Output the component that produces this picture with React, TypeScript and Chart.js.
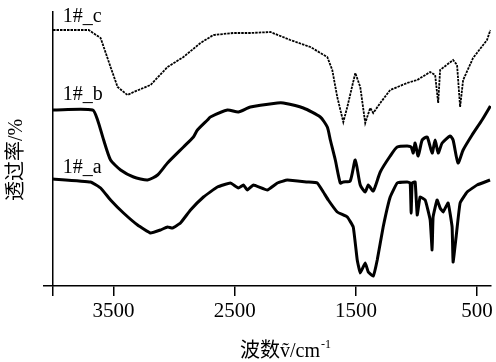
import { useEffect, useRef } from 'react';
import { Chart, registerables } from 'chart.js';

Chart.register(...registerables);

// Tick values of the wavenumber axis (cm^-1); 4000 is the unlabeled axis origin
const tickValues = [4000, 3500, 2500, 1500, 500];

// Series names
const seriesNames = ['1#_a', '1#_b', '1#_c'];

// 1#_c (top, thin dotted trace)
const cWn = [4000, 3706, 3607, 3525, 3467, 3385, 3335, 3195, 3055, 2923, 2783, 2676, 2511, 2371, 2206, 2041, 1876, 1736, 1695, 1654, 1604, 1571, 1505, 1464, 1423, 1382, 1357, 1299, 1217, 1077, 994, 887, 846, 821, 805, 698, 665, 640, 615, 533, 418, 390];
const cT = [256, 256, 248, 219, 199, 191, 194, 201, 219, 229, 243, 251, 253, 253, 254, 246, 239, 229, 216, 189, 164, 179, 213, 199, 163, 178, 173, 183, 196, 203, 206, 214, 211, 183, 216, 226, 221, 179, 206, 228, 246, 256];

// 1#_b (middle)
const bWn = [4000, 3673, 3632, 3582, 3525, 3442, 3335, 3220, 3137, 3055, 2923, 2841, 2808, 2725, 2701, 2560, 2470, 2371, 2148, 2099, 1934, 1794, 1736, 1711, 1670, 1629, 1604, 1547, 1505, 1464, 1423, 1398, 1357, 1299, 1217, 1159, 1077, 1044, 1027, 1011, 986, 953, 912, 871, 846, 821, 788, 722, 698, 657, 615, 541, 459, 390];
const bT = [176, 176, 166, 146, 126, 116, 109, 106, 111, 123, 139, 149, 156, 166, 169, 176, 174, 179, 183, 183, 178, 169, 159, 146, 126, 103, 104, 105, 126, 101, 94, 101, 95, 114, 130, 139, 140, 139, 133, 143, 130, 146, 149, 133, 146, 133, 143, 150, 146, 123, 136, 151, 166, 180];

// 1#_a (bottom)
const aWn = [4000, 3690, 3607, 3525, 3418, 3302, 3195, 3113, 3055, 3014, 2948, 2865, 2758, 2643, 2536, 2470, 2429, 2396, 2346, 2231, 2148, 2066, 1901, 1819, 1769, 1728, 1654, 1571, 1522, 1489, 1464, 1423, 1398, 1357, 1324, 1275, 1217, 1159, 1077, 1052, 1044, 1036, 1011, 994, 970, 928, 887, 871, 863, 830, 805, 780, 739, 706, 698, 673, 640, 582, 500, 393];
const aT = [107, 104, 98, 86, 73, 61, 53, 56, 59, 58, 63, 76, 89, 99, 103, 98, 101, 96, 101, 96, 103, 106, 104, 103, 94, 86, 74, 69, 59, 26, 13, 23, 14, 10, 26, 59, 89, 103, 104, 103, 73, 103, 104, 71, 89, 86, 66, 36, 69, 86, 78, 74, 83, 59, 24, 49, 83, 94, 101, 106];

const toPoints = (xs: number[], ys: number[]) => xs.map((x, i) => ({ x, y: ys[i] }));

const SERIF = '"Liberation Serif", "Times New Roman", "Noto Sans CJK SC", serif';

const annotatePlugin = {
  id: 'annotate',
  afterDraw(chart: any) {
    const { ctx } = chart;
    const xs = chart.scales.x;
    const ys = chart.scales.y;
    ctx.save();
    ctx.fillStyle = '#000';
    // series labels, anchored above each trace's start
    ctx.font = `20px ${SERIF}`;
    ctx.textAlign = 'left';
    ctx.textBaseline = 'alphabetic';
    const starts = [aT[0], bT[0], cT[0]];
    const offs = [6, 10, 8];
    seriesNames.forEach((name, i) => {
      ctx.fillText(name, xs.getPixelForValue(3920), ys.getPixelForValue(starts[i]) - offs[i]);
    });
    // y title
    ctx.save();
    ctx.translate(17, 160);
    ctx.rotate(-Math.PI / 2);
    ctx.textAlign = 'center';
    ctx.textBaseline = 'middle';
    ctx.font = `20px ${SERIF}`;
    ctx.fillText('透过率/%', 0, 0);
    ctx.restore();
    // x title
    ctx.font = `20px ${SERIF}`;
    ctx.textAlign = 'left';
    ctx.textBaseline = 'alphabetic';
    const main = '波数ṽ/cm';
    const x0 = 240;
    const yb = 357;
    ctx.fillText(main, x0, yb);
    const w = ctx.measureText(main).width;
    ctx.font = `12px ${SERIF}`;
    ctx.fillText('-1', x0 + w + 1, yb - 9);
    ctx.restore();
  },
};

export default function App() {
  const ref = useRef<HTMLCanvasElement>(null);
  useEffect(() => {
    if (!ref.current) return;
    const chart = new Chart(ref.current, {
      type: 'line',
      data: {
        datasets: [
          { label: seriesNames[2], data: toPoints(cWn, cT), borderColor: '#000', borderWidth: 1.8, borderDash: [2.5, 1], pointRadius: 0, tension: 0 },
          { label: seriesNames[1], data: toPoints(bWn, bT), borderColor: '#000', borderWidth: 3, pointRadius: 0, tension: 0.2 },
          { label: seriesNames[0], data: toPoints(aWn, aT), borderColor: '#000', borderWidth: 3, pointRadius: 0, tension: 0.1 },
        ],
      },
      options: {
        animation: false,
        responsive: false,
        maintainAspectRatio: false,
        layout: { padding: { top: 12, right: 5, left: 0, bottom: 0 } },
        plugins: { legend: { display: false }, tooltip: { enabled: false } },
        scales: {
          x: {
            type: 'linear',
            reverse: true,
            min: 385,
            max: 4000,
            afterBuildTicks: (s: any) => { s.ticks = tickValues.map((v) => ({ value: v })); },
            afterFit: (s: any) => { s.height = 76; },
            grid: { display: true, drawOnChartArea: false, drawTicks: true, tickLength: 10, color: '#000', lineWidth: 1.5 },
            border: { display: true, color: '#000', width: 1.5 },
            ticks: {
              color: '#000',
              padding: 3,
              maxRotation: 0,
              autoSkip: false,
              font: { family: SERIF, size: 21 },
              callback: (v: any) => (v === 4000 ? '' : String(v)),
            },
          },
          y: {
            type: 'linear',
            min: 0,
            max: 274,
            afterBuildTicks: (s: any) => { s.ticks = [{ value: 0 }]; },
            afterFit: (s: any) => { s.width = 53; },
            grid: { display: true, drawOnChartArea: false, drawTicks: true, tickLength: 10, color: '#000', lineWidth: 1.5 },
            border: { display: true, color: '#000', width: 1.5 },
            ticks: { display: false },
          },
        },
      },
      plugins: [annotatePlugin],
    });
    return () => chart.destroy();
  }, []);
  return (
    <div style={{ position: 'absolute', left: 0, top: 0, width: 496, height: 362, background: '#fff' }}>
      <canvas ref={ref} width={496} height={362} style={{ width: 496, height: 362 }} />
    </div>
  );
}
